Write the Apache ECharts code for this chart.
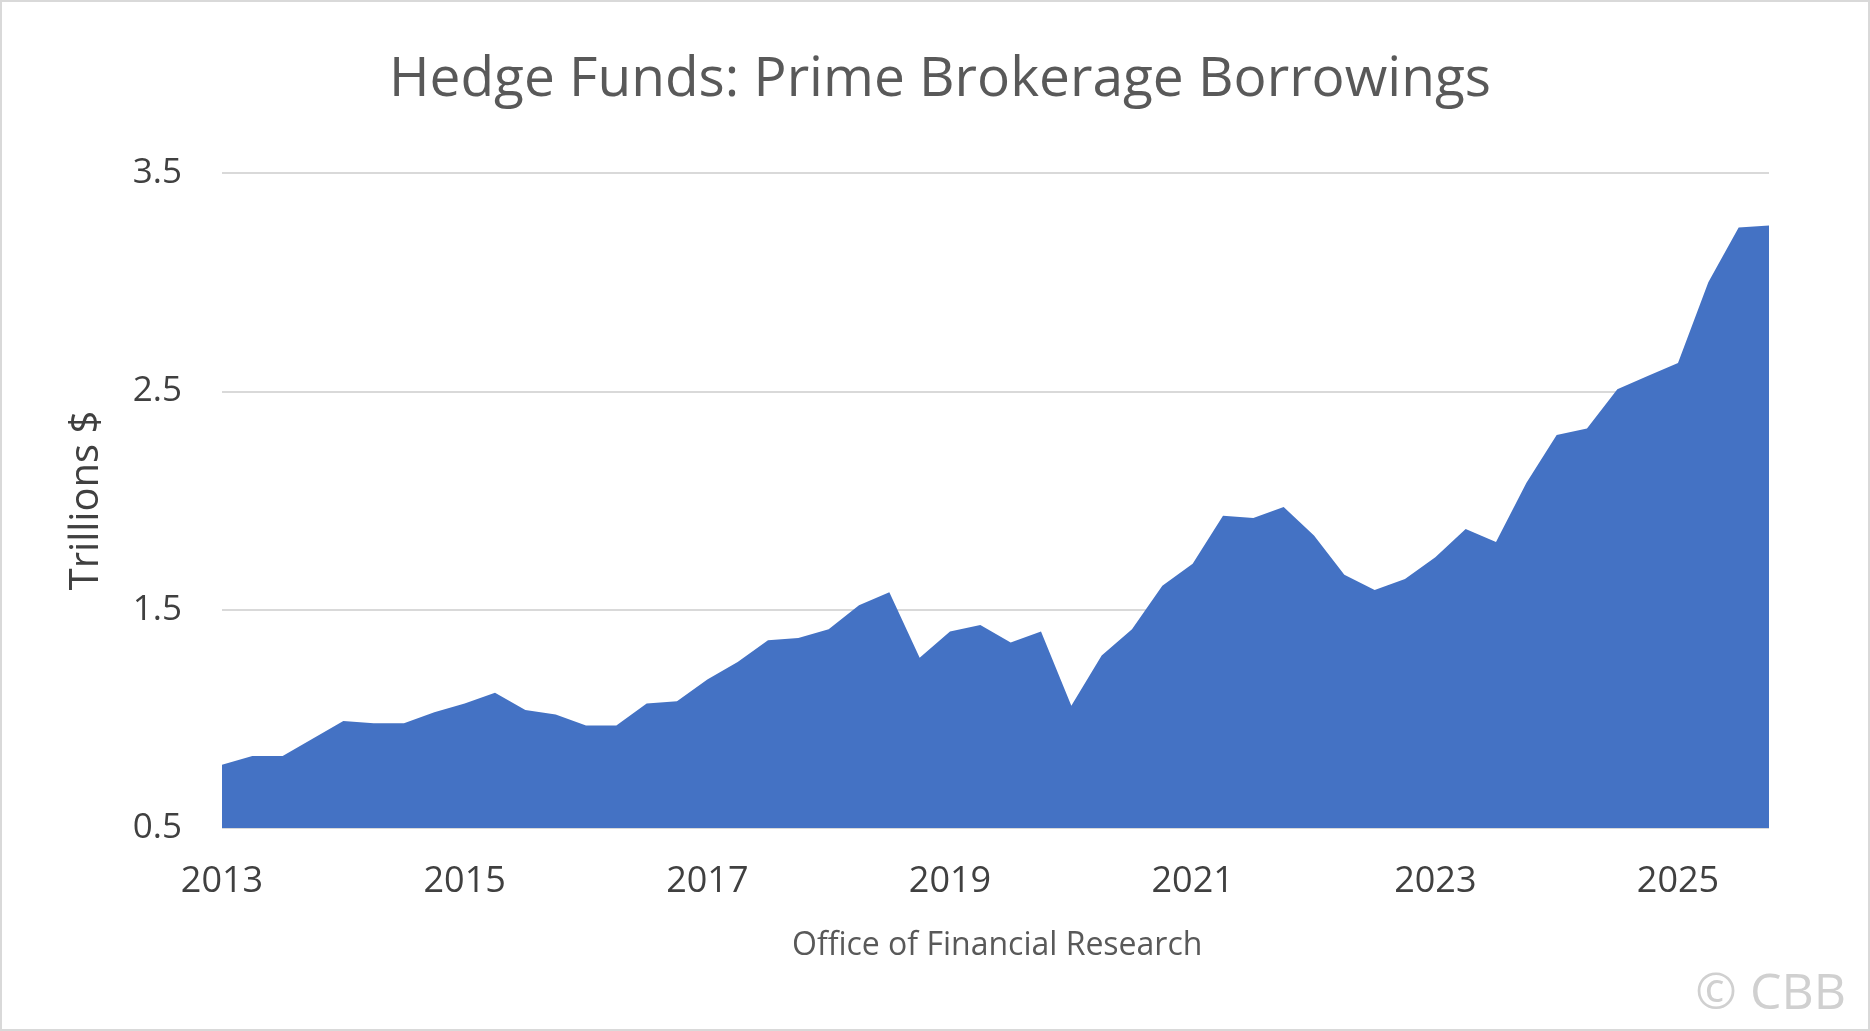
<!DOCTYPE html>
<html><head><meta charset="utf-8">
<script src="https://cdn.jsdelivr.net/npm/echarts@6/dist/echarts.min.js"></script>
<style>html,body{margin:0;padding:0;background:#fff}#c{width:1870px;height:1031px;box-sizing:border-box;border:2px solid #d9d9d9}</style>
</head><body><div id="c"></div>
<script>
// quarterly, 2013 Q1 .. 2025 Q4
var years = [2013,2014,2015,2016,2017,2018,2019,2020,2021,2022,2023,2024,2025];
var quarters = [];
years.forEach(function (y) { for (var q = 1; q <= 4; q++) quarters.push(q === 1 ? String(y) : y + ' Q' + q); });
var borrowings = [0.79,0.83,0.83,0.91,0.99,0.98,0.98,1.03,1.07,1.12,1.04,1.02,0.97,0.97,1.07,1.08,
  1.18,1.26,1.36,1.37,1.41,1.52,1.58,1.28,1.40,1.43,1.35,1.40,1.06,1.29,1.41,1.61,
  1.71,1.93,1.92,1.97,1.84,1.66,1.59,1.64,1.74,1.87,1.81,2.08,2.30,2.33,2.51,2.57,
  2.63,3.00,3.25,3.26];
var yTicks = [0.5, 1.5, 2.5, 3.5];

var chart = echarts.init(document.getElementById('c'));
chart.setOption({
  title: {
    text: 'Hedge Funds: Prime Brokerage Borrowings', left: 933, top: 46, textAlign: 'center',
    textStyle: { fontFamily: 'Open Sans', fontSize: 55, fontWeight: 'normal', color: '#595959' }
  },
  graphic: [
    { type: 'text', left: 790, top: 928, style: { text: 'Office of Financial Research', font: '32px "Open Sans"', fill: '#595959' } },
    { type: 'text', right: 22, top: 968, style: { text: '© CBB', font: '50px "Open Sans"', fill: '#d0d0d0' } }
  ],
  grid: { left: 220, right: 99, top: 171, bottom: 201, containLabel: false },
  xAxis: {
    type: 'category', data: quarters, boundaryGap: false,
    axisLine: { show: false }, axisTick: { show: false },
    axisLabel: {
      interval: function (i) { return i % 8 === 0; },
      fontFamily: 'Open Sans', fontSize: 36, color: '#404040', margin: 36
    }
  },
  yAxis: {
    type: 'value', min: 0.5, max: 3.5, interval: 1,
    name: 'Trillions $', nameLocation: 'middle', nameGap: 115,
    nameTextStyle: { fontFamily: 'Open Sans', fontSize: 40, color: '#404040' },
    axisLabel: { fontFamily: 'Open Sans', fontSize: 35, color: '#404040', margin: 40,
      formatter: function (v) { return yTicks.indexOf(v) >= 0 ? v.toFixed(1) : ''; } },
    splitLine: { lineStyle: { color: '#d9d9d9', width: 2 } }
  },
  series: [{
    type: 'line', data: borrowings, symbol: 'none', smooth: false,
    lineStyle: { width: 0 }, areaStyle: { color: '#4472c4', opacity: 1, origin: 'start' }
  }]
});
</script></body></html>
